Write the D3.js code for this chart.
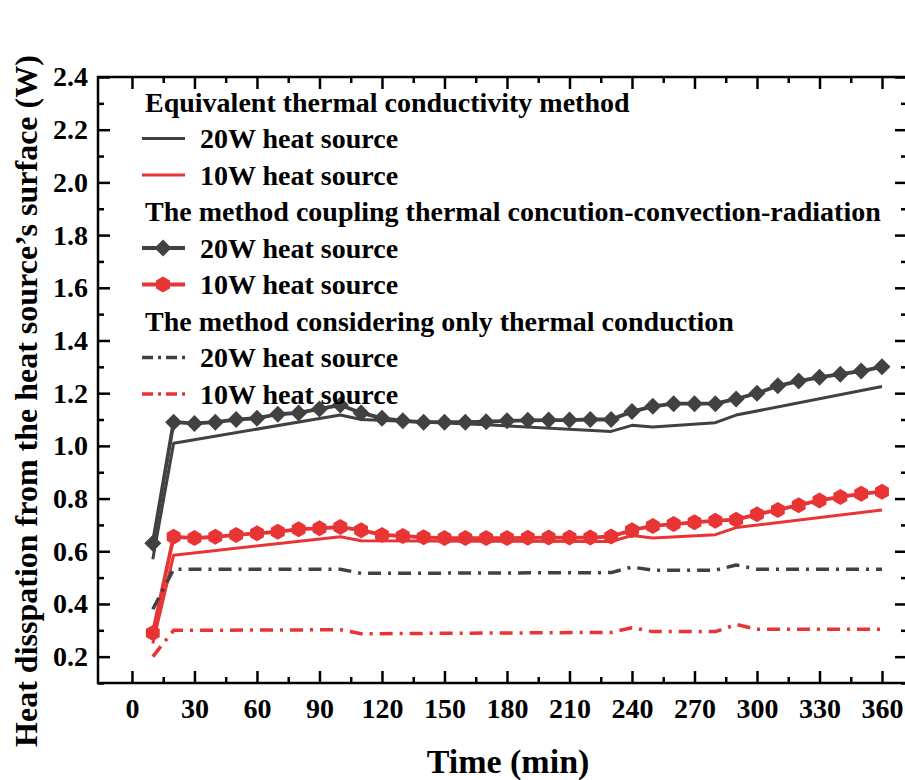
<!DOCTYPE html>
<html>
<head>
<meta charset="utf-8">
<script src="https://cdn.jsdelivr.net/npm/d3@7"></script>
<style>
  body { margin: 0; background: #fff; }
  text { font-family: "Liberation Serif", "Times New Roman", serif; font-weight: bold; fill: #000; }
</style>
</head>
<body>
<svg id="chart" width="905" height="780"></svg>
<script>
// Couleurs des series
const GRIS = '#414141'
const ROUGE = '#e83434'

// Temps des points avec marqueurs (min)
const tempsCouple = [10, 20, 30, 40, 50, 60, 70, 80, 90, 100, 110, 120, 130, 140, 150, 160, 170, 180,
  190, 200, 210, 220, 230, 240, 250, 260, 270, 280, 290, 300, 310, 320, 330, 340, 350, 360]
// Methode couplage conduction-convection-rayonnement
const couple20W = [0.63, 1.09, 1.085, 1.09, 1.10, 1.105, 1.12, 1.125, 1.14, 1.155, 1.125, 1.105, 1.095, 1.09,
  1.09, 1.09, 1.092, 1.095, 1.097, 1.098, 1.098, 1.10, 1.10, 1.13, 1.15, 1.16, 1.16, 1.16, 1.178, 1.20,
  1.228, 1.246, 1.26, 1.272, 1.284, 1.30]
const couple10W = [0.29, 0.655, 0.65, 0.655, 0.662, 0.668, 0.674, 0.684, 0.687, 0.692, 0.68, 0.662, 0.658,
  0.653, 0.65, 0.65, 0.65, 0.65, 0.651, 0.652, 0.652, 0.652, 0.656, 0.68, 0.696, 0.703, 0.71, 0.716, 0.72,
  0.74, 0.757, 0.775, 0.793, 0.806, 0.818, 0.826]

// Methode conductivite thermique equivalente
const tempsEquiv = [10, 20, 100, 110, 170, 230, 240, 250, 280, 290, 360]
const equiv20W = [0.57, 1.01, 1.117, 1.10, 1.08, 1.055, 1.078, 1.072, 1.088, 1.117, 1.225]
const equiv10W = [0.25, 0.585, 0.655, 0.64, 0.638, 0.637, 0.66, 0.65, 0.663, 0.69, 0.757]

// Methode conduction seule
const tempsCond = [10, 20, 100, 110, 230, 240, 250, 280, 290, 300, 360]
const cond20W = [0.38, 0.532, 0.532, 0.516, 0.519, 0.54, 0.528, 0.528, 0.548, 0.532, 0.532]
const cond10W = [0.2, 0.30, 0.302, 0.287, 0.292, 0.31, 0.295, 0.295, 0.322, 0.304, 0.304]

// Graduations
const ticksX = [0, 30, 60, 90, 120, 150, 180, 210, 240, 270, 300, 330, 360]
const ticksY = [0.2, 0.4, 0.6, 0.8, 1.0, 1.2, 1.4, 1.6, 1.8, 2.0, 2.2, 2.4]
const minorX = [15, 45, 75, 105, 135, 165, 195, 225, 255, 285, 315, 345]
const minorY = [0.1, 0.3, 0.5, 0.7, 0.9, 1.1, 1.3, 1.5, 1.7, 1.9, 2.1, 2.3]

// Legende
const titresLegende = ['Equivalent thermal conductivity method',
  'The method coupling thermal concution-convection-radiation',
  'The method considering only thermal conduction']
const labelsLegende = ['20W heat source', '10W heat source']

const svg = d3.select('#chart')
const gauche = 98, haut = 77, droite = 907, bas = 683

const x = d3.scaleLinear().domain([-16.3, 372]).range([gauche, droite])
const y = d3.scaleLinear().domain([0.1, 2.4]).range([bas, haut])

//Axes (ticks vers l'interieur)
function placeAxe(axe, transform, taille, valeurs, format) {
  const g = svg.append('g').attr('transform', transform)
    .call(axe.tickValues(valeurs).tickSize(taille).tickPadding(format ? 14 : 0)
      .tickFormat(format ? d3.format(format) : ''))
  g.select('.domain').remove()
  g.selectAll('line').attr('stroke', '#000').attr('stroke-width', 2.5)
  return g
}

placeAxe(d3.axisBottom(x), `translate(0,${bas})`, -12, ticksX, 'd')
  .selectAll('text').style('font-size', '28px').attr('y', 15)
placeAxe(d3.axisBottom(x), `translate(0,${bas})`, -6, minorX, null)
placeAxe(d3.axisTop(x), `translate(0,${haut})`, -12, ticksX, null)
placeAxe(d3.axisTop(x), `translate(0,${haut})`, -6, minorX, null)
placeAxe(d3.axisLeft(y), `translate(${gauche},0)`, -12, ticksY, '.1f')
  .selectAll('text').style('font-size', '28px').attr('x', -10)
placeAxe(d3.axisLeft(y), `translate(${gauche},0)`, -6, minorY, null)
placeAxe(d3.axisRight(y), `translate(${droite},0)`, -12, ticksY, null)
placeAxe(d3.axisRight(y), `translate(${droite},0)`, -6, minorY, null)

//Cadre
svg.append('rect').attr('x', gauche).attr('y', haut).attr('width', droite - gauche).attr('height', bas - haut)
  .attr('fill', 'none').attr('stroke', '#000').attr('stroke-width', 2.5)

//Titres des axes
svg.append('text').text('Time (min)').attr('x', 508).attr('y', 773).attr('text-anchor', 'middle')
  .style('font-size', '34px')
svg.append('text').text('Heat disspation from the heat source\u2019s surface (W)')
  .attr('transform', 'translate(37,401) rotate(-90)').attr('text-anchor', 'middle')
  .style('font-size', '32px')

//Formes des marqueurs
const diamant = s => `M0,${-s}L${s},0L0,${s}L${-s},0Z`
const hexagone = s => d3.range(6).map(i => {
  const a = Math.PI / 2 + i * Math.PI / 3
  return (i ? 'L' : 'M') + (s * Math.cos(a)).toFixed(2) + ',' + (s * Math.sin(a)).toFixed(2)
}).join('') + 'Z'

const ligne = d3.line().x(d => x(d[0])).y(d => y(d[1]))
const paires = (t, v) => t.map((d, i) => [d, v[i]])

const series = [
  { t: tempsCouple, v: couple20W, c: GRIS, w: 3.8, marque: diamant(8.5) },
  { t: tempsCouple, v: couple10W, c: ROUGE, w: 3.8, marque: hexagone(8) },
  { t: tempsEquiv, v: equiv20W, c: GRIS, w: 3 },
  { t: tempsEquiv, v: equiv10W, c: ROUGE, w: 3 },
  { t: tempsCond, v: cond20W, c: GRIS, w: 3.5, dash: '13,7,3,7' },
  { t: tempsCond, v: cond10W, c: ROUGE, w: 3.5, dash: '13,7,3,7' }
]

series.forEach(s => {
  const pts = paires(s.t, s.v)
  svg.append('path').datum(pts).attr('d', ligne).attr('fill', 'none')
    .attr('stroke', s.c).attr('stroke-width', s.w).attr('stroke-linejoin', 'round')
    .attr('stroke-dasharray', s.dash || null)
  if (s.marque) {
    svg.append('g').selectAll('path').data(pts).join('path')
      .attr('d', s.marque).attr('fill', s.c)
      .attr('transform', d => `translate(${x(d[0])},${y(d[1])})`)
  }
})

//Legende
const lignesLegende = [
  { titre: titresLegende[0] },
  { label: labelsLegende[0], s: series[2] },
  { label: labelsLegende[1], s: series[3] },
  { titre: titresLegende[1] },
  { label: labelsLegende[0], s: series[0] },
  { label: labelsLegende[1], s: series[1] },
  { titre: titresLegende[2] },
  { label: labelsLegende[0], s: series[4] },
  { label: labelsLegende[1], s: series[5] }
]
const leg = svg.append('g')
lignesLegende.forEach((r, i) => {
  const ly = 102 + i * 36.5
  if (r.titre) {
    leg.append('text').text(r.titre).attr('x', 145).attr('y', ly).attr('dy', '0.35em').style('font-size', '28px')
    return
  }
  leg.append('line').attr('x1', 142).attr('x2', 185).attr('y1', ly).attr('y2', ly)
    .attr('stroke', r.s.c).attr('stroke-width', r.s.w).attr('stroke-dasharray', r.s.dash ? '11,5,3,5' : null)
  if (r.s.marque) leg.append('path').attr('d', r.s.marque).attr('fill', r.s.c).attr('transform', `translate(163,${ly})`)
  leg.append('text').text(r.label).attr('x', 200).attr('y', ly).attr('dy', '0.35em').style('font-size', '28px')
})
</script>
</body>
</html>
